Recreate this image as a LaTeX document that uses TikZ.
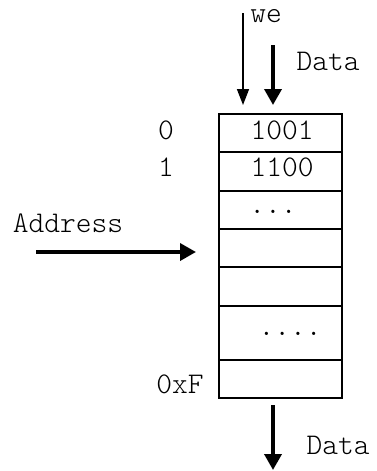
\documentclass[tikz,border=0pt]{standalone}
\usepackage{fontspec}
\newfontfamily\lightmono{Latin Modern Mono Light}
\usetikzlibrary{arrows.meta}
\begin{document}
\begin{tikzpicture}[x=1pt,y=-1pt,
  txt/.style={inner sep=0pt, font=\lightmono\fontsize{30}{34}\selectfont},
  cell/.style={draw, line width=1.3pt, minimum width=123pt, inner sep=0pt},
  thinarrow/.style={line width=1.6pt, -{Triangle[length=16pt,width=12pt]}},
  thickarrow/.style={line width=3.6pt, -{Triangle[length=16pt,width=17pt]}}]
\useasboundingbox (0,0) rectangle (377,471);
% memory cells
\node[cell, minimum height=38pt] (r0) at (280.5,133) {};
\node[cell, minimum height=39pt] (r1) at (280.5,171.5) {};
\node[cell, minimum height=38pt] (r2) at (280.5,210) {};
\node[cell, minimum height=38pt] (r3) at (280.5,248) {};
\node[cell, minimum height=39pt] (r4) at (280.5,286.5) {};
\node[cell, minimum height=54pt] (r5) at (280.5,333) {};
\node[cell, minimum height=38pt] (r6) at (280.5,379) {};
% cell contents
\node[txt] (v0) at (282,130) {1001};
\node[txt] (v1) at (282,167) {1100};
\node[txt] (d2) at (273,212) {...};
\node[txt] (d5) at (290,334) {....};
% address labels
\node[txt] (a0) at (166,130) {0};
\node[txt] (a1) at (166,167) {1};
\node[txt] (aF) at (180,384.5) {0xF};
% other labels
\node[txt] (we) at (266,16.5) {we};
\node[txt] (din) at (328,61) {Data};
\node[txt] (addr) at (68,223) {Address};
\node[txt] (dout) at (338,445) {Data};
% arrow endpoints
\coordinate (weS) at (243,13);
\coordinate (weE) at (243,105);
\coordinate (dinS) at (273,45);
\coordinate (dinE) at (273,105);
\coordinate (adS) at (36,252);
\coordinate (adE) at (196,252);
\coordinate (doS) at (273,405);
\coordinate (doE) at (273,470);
\draw[thinarrow] (weS) -- (weE);
\draw[thickarrow] (dinS) -- (dinE);
\draw[thickarrow] (adS) -- (adE);
\draw[thickarrow] (doS) -- (doE);
\end{tikzpicture}
\end{document}
